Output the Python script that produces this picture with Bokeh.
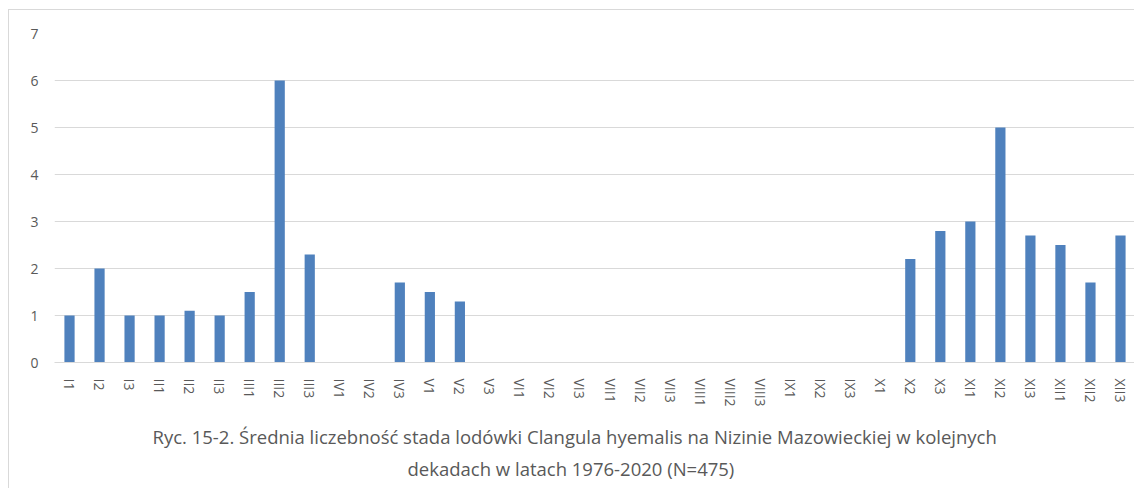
from bokeh.plotting import figure
from bokeh.models import ColumnDataSource, Title, Range1d, FixedTicker
from bokeh.embed import file_html
from bokeh.resources import INLINE

categories = ["I1", "I2", "I3", "II1", "II2", "II3", "III1", "III2", "III3",
              "IV1", "IV2", "IV3", "V1", "V2", "V3", "VI1", "VI2", "VI3",
              "VII1", "VII2", "VII3", "VIII1", "VIII2", "VIII3", "IX1", "IX2", "IX3",
              "X1", "X2", "X3", "XI1", "XI2", "XI3", "XII1", "XII2", "XII3"]
values = [1.0, 2.0, 1.0, 1.0, 1.1, 1.0, 1.5, 6.0, 2.3,
          0, 0, 1.7, 1.5, 1.3, 0, 0, 0, 0,
          0, 0, 0, 0, 0, 0, 0, 0, 0,
          0, 2.2, 2.8, 3.0, 5.0, 2.7, 2.5, 1.7, 2.7]
y_ticks = [0, 1, 2, 3, 4, 5, 6, 7]
caption_1 = "Ryc. 15-2. Średnia liczebność stada lodówki Clangula hyemalis na Nizinie Mazowieckiej w kolejnych"
caption_2 = "dekadach w  latach 1976-2020 (N=475)"

FONT = "Open Sans"
GRAY = "#595959"

src = ColumnDataSource(dict(cat=categories, val=values))

p = figure(x_range=categories, y_range=Range1d(0, 7), width=1126, height=479,
           output_backend="svg", toolbar_location=None,
           min_border_left=45, min_border_right=0, min_border_top=23, min_border_bottom=127)
p.styles = {"margin-left": "8px", "margin-top": "9px",
            "border-left": "1px solid #d9d9d9", "border-top": "1px solid #d9d9d9"}

p.vbar(x="cat", top="val", width=0.34, source=src, fill_color="#4f81bd", line_color=None)

p.outline_line_color = None
p.xgrid.grid_line_color = None
p.ygrid.grid_line_color = "#d9d9d9"
p.ygrid.grid_line_width = 1

p.yaxis.ticker = FixedTicker(ticks=y_ticks)
p.yaxis.axis_line_color = None
p.yaxis.major_tick_line_color = None
p.yaxis.minor_tick_line_color = None
p.yaxis.major_label_text_font = FONT
p.yaxis.major_label_text_font_size = "14px"
p.yaxis.major_label_text_color = GRAY
p.yaxis.major_label_standoff = 10

p.xaxis.axis_line_color = "#d9d9d9"
p.xaxis.major_tick_line_color = None
p.xaxis.major_label_orientation = "vertical"
p.xaxis.major_label_text_font = FONT
p.xaxis.major_label_text_font_size = "14px"
p.xaxis.major_label_text_color = GRAY
p.xaxis.major_label_standoff = 10

t1 = Title(text=caption_1, align="left", text_font=FONT, text_font_size="18.5px",
           text_color=GRAY, text_font_style="normal", offset=98, standoff=25)
t2 = Title(text=caption_2, align="left", text_font=FONT, text_font_size="18.5px",
           text_color=GRAY, text_font_style="normal", offset=353, standoff=-15)
p.add_layout(t1, "below")
p.add_layout(t2, "below")

open("out.html", "w").write(file_html(p, INLINE))
